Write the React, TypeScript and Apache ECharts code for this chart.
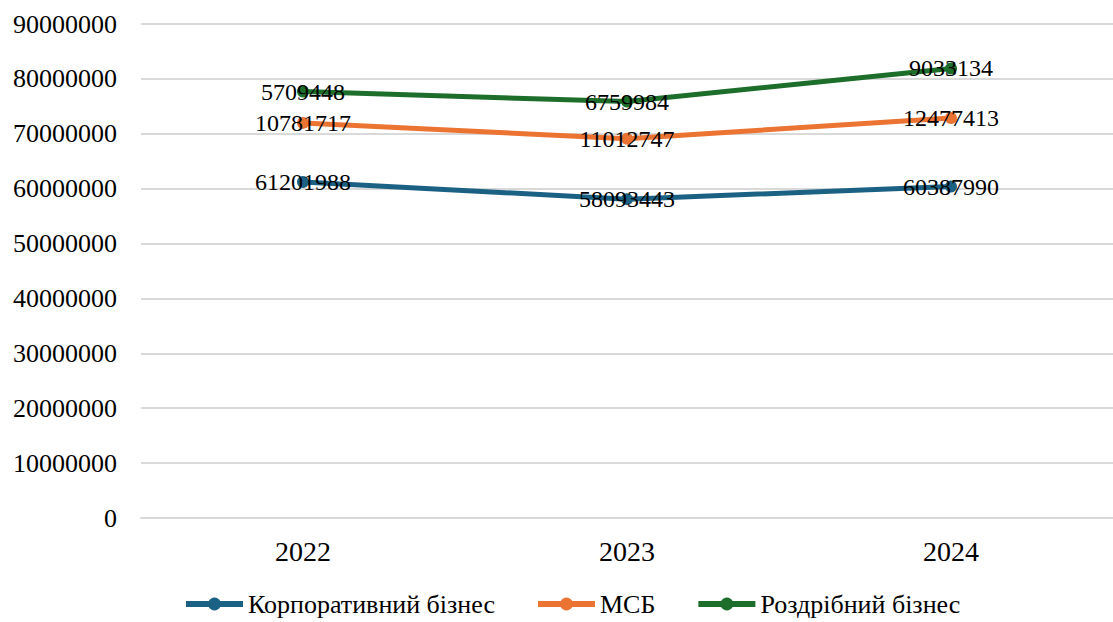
import React, { useEffect, useRef } from "react";
import * as echarts from "echarts";

const categories = ["2022", "2023", "2024"];
const corporate = [61201988, 58093443, 60387990];
const msb = [10781717, 11012747, 12477413];
const retail = [5709448, 6759984, 9033134];
const seriesNames = ["Корпоративний бізнес", "МСБ", "Роздрібний бізнес"];
const colors = ["#1b6183", "#ec7433", "#1e6e2b"];

export default function App() {
  const ref = useRef<HTMLDivElement>(null);
  useEffect(() => {
    if (!ref.current) return;
    const chart = echarts.init(ref.current, null, { renderer: "svg" });
    const font = "Liberation Serif";
    const mk = (name: string, data: number[], color: string) => ({
      name,
      type: "line",
      stack: "total",
      data,
      color,
      symbol: "circle",
      symbolSize: 12,
      lineStyle: { width: 5, color },
      itemStyle: { color },
      label: {
        show: true,
        position: "inside",
        color: "#000",
        fontFamily: font,
        fontSize: 24,
      },
    });
    chart.setOption({
      animation: false,
      textStyle: { fontFamily: font },
      grid: { left: 141, right: 0, top: 24, bottom: 104 },
      legend: {
        bottom: 0,
        left: 178,
        itemWidth: 57,
        itemHeight: 16,
        itemGap: 40,
        lineStyle: { width: 6 },
        textStyle: { fontFamily: font, fontSize: 26, color: "#000" },
        data: seriesNames,
      },
      xAxis: {
        type: "category",
        data: categories,
        axisLine: { lineStyle: { color: "#d9d9d9", width: 2 } },
        axisTick: { show: false },
        axisLabel: { fontFamily: font, fontSize: 28, color: "#000", margin: 19 },
      },
      yAxis: {
        type: "value",
        min: 0,
        max: 90000000,
        interval: 10000000,
        axisLabel: {
          fontFamily: font,
          fontSize: 26,
          color: "#000",
          margin: 24,
          formatter: (v: number) => String(v),
        },
        splitLine: { lineStyle: { color: "#d9d9d9", width: 2 } },
      },
      series: [
        mk(seriesNames[0], corporate, colors[0]),
        mk(seriesNames[1], msb, colors[1]),
        mk(seriesNames[2], retail, colors[2]),
      ],
    });
    return () => chart.dispose();
  }, []);
  return (
    <div
      ref={ref}
      style={{ position: "fixed", left: 0, top: 0, width: 1113, height: 622, background: "#fff" }}
    />
  );
}
